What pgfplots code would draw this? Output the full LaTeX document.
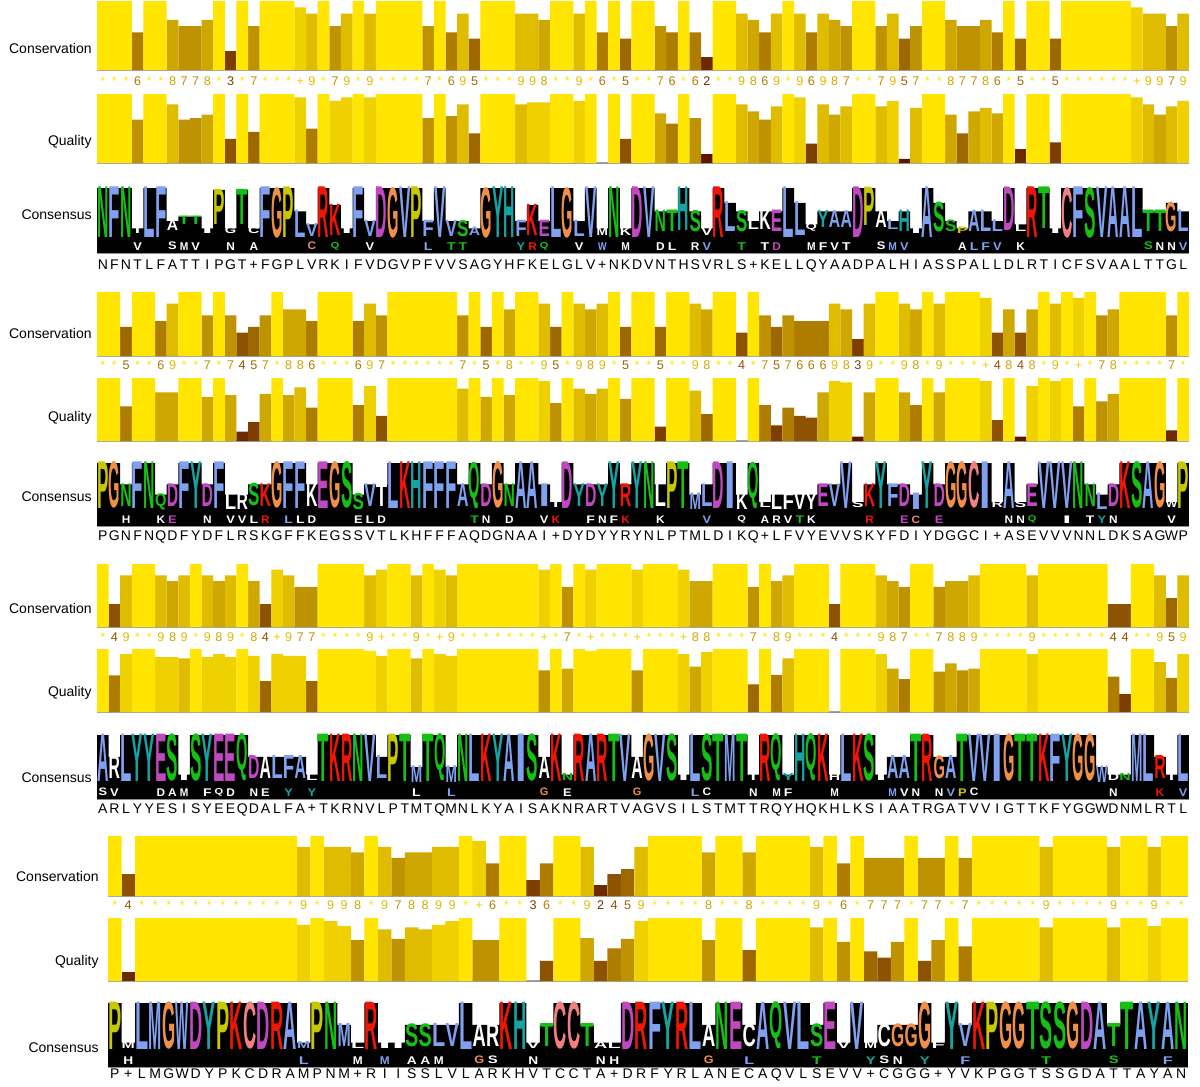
\documentclass[border=0pt]{standalone}
\usepackage{pgfplots}
\pgfplotsset{compat=1.18}
\usepackage{pgfplotstable}
\usepackage{graphicx}
\usepackage{fontspec}
\setmainfont{Liberation Sans}

% Jalview bar gradient: (0.3+0.7p, 0.9p, 0) with p = level/11
\definecolor{cons0}{rgb}{0.300,0.000,0}
\definecolor{cons1}{rgb}{0.364,0.082,0}
\definecolor{cons2}{rgb}{0.427,0.164,0}
\definecolor{cons3}{rgb}{0.491,0.245,0}
\definecolor{cons4}{rgb}{0.555,0.327,0}
\definecolor{cons5}{rgb}{0.618,0.409,0}
\definecolor{cons6}{rgb}{0.682,0.491,0}
\definecolor{cons7}{rgb}{0.745,0.573,0}
\definecolor{cons8}{rgb}{0.809,0.655,0}
\definecolor{cons9}{rgb}{0.873,0.736,0}
\definecolor{cons10}{rgb}{0.936,0.818,0}
\definecolor{cons11}{rgb}{1.000,0.900,0}
\definecolor{lineg}{HTML}{A4A4A4}

% clustal residue colours; lower case letters in the tables are drawn white
\definecolor{aaA}{HTML}{80A0F0}
\colorlet{aaI}{aaA}\colorlet{aaL}{aaA}\colorlet{aaM}{aaA}
\colorlet{aaF}{aaA}\colorlet{aaW}{aaA}\colorlet{aaV}{aaA}
\definecolor{aaK}{HTML}{F01505}\colorlet{aaR}{aaK}
\definecolor{aaN}{HTML}{15C015}
\colorlet{aaQ}{aaN}\colorlet{aaS}{aaN}\colorlet{aaT}{aaN}
\definecolor{aaD}{HTML}{C048C0}\colorlet{aaE}{aaD}
\definecolor{aaC}{HTML}{F08080}
\definecolor{aaG}{HTML}{F09048}
\definecolor{aaP}{HTML}{C8C800}
\definecolor{aaH}{HTML}{15A4A4}\colorlet{aaY}{aaH}
\colorlet{aaa}{white}\colorlet{aac}{white}\colorlet{aad}{white}\colorlet{aae}{white}
\colorlet{aaf}{white}\colorlet{aag}{white}\colorlet{aah}{white}\colorlet{aai}{white}
\colorlet{aak}{white}\colorlet{aal}{white}\colorlet{aam}{white}\colorlet{aan}{white}
\colorlet{aap}{white}\colorlet{aaq}{white}\colorlet{aar}{white}\colorlet{aas}{white}
\colorlet{aat}{white}\colorlet{aav}{white}\colorlet{aaw}{white}\colorlet{aay}{white}

\newlength\logow
\newlength\logoh
\newlength\tmplen
\newcommand\aaletter[1]{\textcolor{aa#1}{\uppercase{#1}}}
\newcommand\logoL[1]{\edef\lchartmp{#1}\expandafter\aaletter\expandafter{\lchartmp}}
\newcommand\consym[1]{\edef\tmpc{#1}\vphantom{0}\ifnum\tmpc=11 *\else\ifnum\tmpc=10 +\else\tmpc\fi\fi}
% zero-size boxes so that the node anchor does not matter
\newcommand\midtext[1]{\makebox[0pt][c]{\raisebox{-0.5\height}[0pt][0pt]{#1}}}
\newcommand\uptext[1]{\makebox[0pt][c]{\raisebox{\depth}[0pt][0pt]{#1}}}
% stretched logo letter: width, height fraction, letter
\newcommand\letterbox[3]{\pgfmathsetlength\tmplen{#2*\logoh}%
  \uptext{\resizebox*{#1}{\tmplen}{\bfseries\logoL{#3}}}}
\newcommand\lblfont{\fontsize{7}{8}\selectfont}
\newcommand\csymfont{\fontsize{6.3}{7}\selectfont}
\newcommand\seqfont{\fontsize{7}{8}\selectfont}

\pgfplotsset{
  annot/.style={scale only axis, anchor=south west, axis x line=bottom, axis y line=none,
    xtick=\empty, ytick=\empty, clip=false, ymin=0,
    x axis line style={-, draw=lineg, line width=1.2pt}},
  txt/.style={only marks, mark=*, mark size=0pt, mark options={draw=none, fill=none},
    point meta=explicit symbolic,
    every node near coord/.append style={inner sep=0pt, outer sep=0pt}},
}

\newcommand\consplots[2]{%
  \pgfplotsinvokeforeach{2,...,11}{%
    \addplot[ybar, bar shift=0pt, bar width=1, draw=none, fill=cons##1,
      restrict expr to domain={\thisrow{c}}{##1:##1}] table[x=x, y=c] {#1};
    \addplot[txt, restrict expr to domain={\thisrow{c}}{##1:##1},
      nodes near coords={\midtext{\consym{\pgfplotspointmeta}}},
      every node near coord/.append style={font=\csymfont, text=cons##1}]
      table[x=x, y expr=#2, meta=c] {#1};
  }}

\newcommand\qualplots[1]{%
  \pgfplotsinvokeforeach{0,...,11}{%
    \addplot[ybar, bar shift=0pt, bar width=1, draw=none, fill=cons##1,
      restrict expr to domain={round(11*\thisrow{q})}{##1:##1}]
      table[x=x, y expr=11*\thisrow{q}] {#1};
  }}

\newcommand\logoplots[3]{%
  \addplot[ybar, bar shift=0pt, bar width=1, draw=none, fill=black] table[x=x, y=H] {#1};
  \addplot[txt, visualization depends on={\thisrow{m} \as \lhgt},
    nodes near coords={\letterbox{\logow}{\lhgt}{\pgfplotspointmeta}}]
    table[x=x, y expr=\thisrow{H}-\thisrow{m}, meta=T] {#1};
  \addplot[txt, visualization depends on={\thisrow{h} \as \lhgt},
    nodes near coords={\letterbox{0.75\logow}{\lhgt}{\pgfplotspointmeta}}]
    table[x=x, y=b, meta=S] {#2};
  \addplot[txt, nodes near coords={\midtext{\pgfplotspointmeta}},
    every node near coord/.append style={font=\seqfont, text=black}]
    table[x=x, y expr=#3, meta=L] {#1};
}

% x: column, c: conservation (11 = *, 10 = +), q: quality fraction,
% L: consensus residue, T: top logo letter, H: logo column height, m: top letter height
\pgfplotstableread{
x c q L T H m
1 11 1.00 N N 1.00 0.78
2 11 1.00 F F 1.00 0.78
3 11 1.00 N N 1.00 0.78
4 6 0.63 T t 0.38 0.10
5 11 1.00 L L 1.00 0.78
6 11 1.00 F F 1.00 0.78
7 8 0.85 A a 0.49 0.16
8 7 0.63 T T 0.56 0.13
9 7 0.65 T T 0.56 0.13
10 8 0.70 I i 0.38 0.10
11 11 1.00 P P 0.97 0.54
12 3 0.35 G g 0.38 0.10
13 11 1.00 T T 0.97 0.54
14 7 0.45 + c 0.38 0.10
15 11 1.00 F F 1.00 0.78
16 11 1.00 G G 1.00 0.78
17 11 1.00 P P 1.00 0.78
18 10 0.95 L L 0.64 0.42
19 9 0.50 V V 0.44 0.20
20 11 1.00 R R 1.00 0.78
21 7 0.90 K K 0.74 0.48
22 9 0.95 I i 0.38 0.10
23 11 1.00 F F 1.00 0.78
24 9 0.95 V V 0.49 0.25
25 11 1.00 D D 1.00 0.78
26 11 1.00 G G 1.00 0.78
27 11 1.00 V V 1.00 0.78
28 11 1.00 P P 1.00 0.78
29 7 0.65 F F 0.49 0.25
30 11 1.00 V V 1.00 0.78
31 6 0.68 V V 0.49 0.25
32 9 0.85 S S 0.49 0.25
33 5 0.43 A A 0.38 0.13
34 11 1.00 G G 1.00 0.78
35 11 1.00 Y Y 1.00 0.78
36 11 1.00 H H 1.00 0.78
37 9 0.85 F F 0.49 0.25
38 9 0.88 K K 0.74 0.48
39 8 0.88 E E 0.49 0.25
40 11 1.00 L L 1.00 0.78
41 11 1.00 G G 1.00 0.78
42 9 0.90 L L 0.49 0.25
43 11 1.00 V V 1.00 0.78
44 6 0.00 + m 0.38 0.12
45 11 1.00 N N 1.00 0.78
46 5 0.35 K k 0.38 0.12
47 11 1.00 D D 1.00 0.78
48 11 1.00 V V 1.00 0.78
49 7 0.72 N N 0.64 0.33
50 6 0.57 T T 0.64 0.33
51 11 1.00 H H 1.00 0.67
52 6 0.65 S S 0.64 0.33
53 2 0.13 V v 0.38 0.12
54 11 1.00 R R 1.00 0.78
55 11 1.00 L L 0.77 0.46
56 9 0.85 S S 0.64 0.33
57 8 0.75 + l 0.49 0.15
58 6 0.63 K k 0.64 0.30
59 9 0.82 E E 0.64 0.33
60 11 1.00 L L 1.00 0.78
61 9 0.95 L L 0.77 0.52
62 6 0.28 Q q 0.44 0.12
63 9 0.85 Y Y 0.64 0.26
64 8 0.70 A A 0.64 0.26
65 7 0.82 A A 0.64 0.26
66 11 1.00 D D 1.00 0.78
67 11 1.00 P P 1.00 0.59
68 7 0.82 A a 0.64 0.26
69 9 0.90 L L 0.49 0.15
70 5 0.06 H H 0.64 0.33
71 7 0.80 I i 0.38 0.10
72 11 1.00 A A 1.00 0.78
73 11 1.00 S S 0.77 0.46
74 8 0.70 S S 0.49 0.18
75 7 0.43 P P 0.38 0.10
76 7 0.75 A A 0.64 0.33
77 8 0.80 L L 0.64 0.33
78 6 0.72 L L 0.49 0.18
79 11 1.00 D D 1.00 0.67
80 5 0.20 L l 0.44 0.12
81 11 1.00 R R 1.00 0.78
82 11 1.00 T T 1.00 0.64
83 5 0.30 I i 0.38 0.10
84 11 1.00 C C 1.00 0.78
85 11 1.00 F F 1.00 0.78
86 11 1.00 S S 1.00 0.78
87 11 1.00 V V 1.00 0.78
88 11 1.00 A A 1.00 0.78
89 11 1.00 A A 1.00 0.78
90 10 0.95 L L 1.00 0.78
91 9 0.85 T T 0.64 0.33
92 9 0.70 T T 0.64 0.33
93 7 0.82 G G 0.77 0.46
94 9 0.90 L L 0.64 0.33
}\tA

\pgfplotstableread{
x c q L T H m
1 11 1.00 P P 1.00 0.74
2 11 1.00 G G 1.00 0.74
3 5 0.55 N N 0.66 0.36
4 11 1.00 F F 1.00 0.74
5 11 1.00 N N 1.00 0.74
6 6 0.77 Q Q 0.50 0.26
7 9 0.77 D D 0.66 0.36
8 11 1.00 F F 1.00 0.74
9 11 1.00 Y Y 1.00 0.74
10 7 0.70 D D 0.66 0.36
11 11 1.00 F F 1.00 0.74
12 7 0.73 L l 0.50 0.26
13 4 0.15 R r 0.50 0.26
14 5 0.30 S S 0.66 0.36
15 7 0.75 K K 0.66 0.36
16 11 1.00 G G 1.00 0.74
17 8 0.73 F F 1.00 0.74
18 8 0.85 F F 1.00 0.74
19 6 0.53 K k 0.66 0.36
20 11 1.00 E E 1.00 0.74
21 11 1.00 G G 1.00 0.74
22 11 1.00 S S 1.00 0.74
23 6 0.57 S S 0.50 0.26
24 9 0.87 V V 0.66 0.36
25 7 0.40 T t 0.66 0.36
26 11 1.00 L L 1.00 0.74
27 11 1.00 K K 1.00 0.74
28 11 1.00 H H 1.00 0.74
29 11 1.00 F F 1.00 0.74
30 11 1.00 F F 1.00 0.74
31 11 1.00 F F 1.00 0.74
32 7 0.83 A A 0.66 0.36
33 11 1.00 Q Q 1.00 0.74
34 5 0.70 D D 0.66 0.36
35 11 1.00 G G 1.00 0.74
36 8 0.73 N N 0.66 0.36
37 11 1.00 A A 1.00 0.74
38 11 1.00 A A 1.00 0.74
39 9 0.95 I I 0.66 0.36
40 5 0.60 + t 0.38 0.11
41 11 1.00 D D 1.00 0.74
42 9 0.83 Y Y 0.66 0.36
43 8 0.75 D D 0.66 0.36
44 9 0.83 Y Y 0.66 0.36
45 11 1.00 Y Y 1.00 0.74
46 5 0.67 R R 0.66 0.36
47 11 1.00 Y Y 1.00 0.74
48 11 1.00 N N 1.00 0.74
49 5 0.23 L l 0.66 0.36
50 11 1.00 P P 1.00 0.74
51 11 1.00 T T 1.00 0.74
52 9 0.80 M M 0.50 0.26
53 8 0.43 L L 0.66 0.36
54 11 1.00 D D 1.00 0.74
55 11 1.00 I I 1.00 0.74
56 4 0.00 K k 0.50 0.26
57 11 1.00 Q Q 1.00 0.74
58 7 0.57 + l 0.38 0.11
59 5 0.25 L l 0.50 0.26
60 7 0.53 F f 0.50 0.26
61 6 0.40 V v 0.50 0.26
62 6 0.37 Y y 0.50 0.26
63 6 0.77 E E 0.66 0.36
64 9 0.95 V V 0.66 0.36
65 8 0.93 V V 1.00 0.74
66 3 0.07 S s 0.38 0.11
67 9 0.77 K K 0.66 0.36
68 11 1.00 Y Y 1.00 0.74
69 11 1.00 F F 0.66 0.36
70 9 0.77 D D 0.66 0.36
71 8 0.57 I I 0.50 0.26
72 11 1.00 Y Y 1.00 0.74
73 9 0.77 D D 0.66 0.36
74 11 1.00 G G 1.00 0.74
75 11 1.00 G G 1.00 0.74
76 11 1.00 C C 1.00 0.74
77 10 0.95 I I 1.00 0.74
78 4 0.33 + r 0.38 0.11
79 8 1.00 A A 1.00 0.74
80 4 0.07 S s 0.38 0.11
81 8 0.87 E E 0.66 0.36
82 11 1.00 V V 1.00 0.74
83 9 0.95 V V 1.00 0.74
84 11 1.00 V V 1.00 0.74
85 10 0.55 N N 1.00 0.74
86 11 1.00 N N 0.66 0.36
87 7 0.63 L L 0.50 0.26
88 8 0.75 D D 0.66 0.36
89 11 1.00 K K 1.00 0.74
90 11 1.00 S S 1.00 0.74
91 11 1.00 A A 1.00 0.74
92 11 1.00 G G 1.00 0.74
93 7 0.17 W w 0.38 0.11
94 11 1.00 P P 1.00 0.74
}\tB

\pgfplotstableread{
x c q L T H m
1 11 1.00 A A 1.00 0.74
2 4 0.58 R r 0.66 0.36
3 9 0.92 L L 1.00 0.74
4 11 1.00 Y Y 1.00 0.74
5 11 1.00 Y Y 1.00 0.74
6 9 0.87 E E 1.00 0.74
7 8 0.87 S S 1.00 0.74
8 9 0.85 I i 0.38 0.11
9 11 1.00 S S 1.00 0.74
10 9 0.87 Y Y 1.00 0.74
11 8 0.92 E E 1.00 0.74
12 9 0.87 E E 1.00 0.74
13 11 1.00 Q Q 1.00 0.74
14 8 0.89 D D 0.66 0.36
15 4 0.49 A a 0.66 0.36
16 10 0.92 L L 0.66 0.36
17 9 0.89 F F 0.66 0.36
18 7 0.89 A A 0.66 0.36
19 7 0.49 + l 0.38 0.11
20 11 1.00 T T 1.00 0.74
21 11 1.00 K K 1.00 0.74
22 11 1.00 R R 1.00 0.74
23 11 1.00 N N 1.00 0.74
24 9 0.97 V V 1.00 0.74
25 10 0.89 L L 0.66 0.36
26 11 1.00 P P 1.00 0.74
27 11 1.00 T T 1.00 0.74
28 9 0.85 M M 0.50 0.26
29 11 1.00 T T 1.00 0.74
30 10 0.92 Q Q 1.00 0.74
31 9 0.89 M M 0.50 0.26
32 11 1.00 N N 1.00 0.74
33 11 1.00 L L 1.00 0.74
34 11 1.00 K K 1.00 0.74
35 11 1.00 Y Y 1.00 0.74
36 11 1.00 A A 1.00 0.74
37 11 1.00 I I 1.00 0.74
38 11 1.00 S S 1.00 0.74
39 10 0.66 A a 0.66 0.36
40 11 1.00 K K 1.00 0.74
41 7 0.69 N N 0.38 0.11
42 11 1.00 R R 1.00 0.74
43 10 0.97 A A 1.00 0.74
44 11 1.00 R R 1.00 0.74
45 11 1.00 T T 1.00 0.74
46 11 1.00 V V 1.00 0.74
47 10 0.66 A a 0.66 0.36
48 11 1.00 G G 1.00 0.74
49 11 1.00 V V 1.00 0.74
50 11 1.00 S S 1.00 0.74
51 10 0.92 I i 0.38 0.11
52 8 0.72 L L 1.00 0.74
53 8 0.95 S S 1.00 0.74
54 11 1.00 T T 1.00 0.74
55 11 1.00 M M 1.00 0.74
56 11 1.00 T T 1.00 0.74
57 7 0.44 T t 0.38 0.11
58 11 1.00 R R 1.00 0.74
59 8 0.59 Q Q 1.00 0.74
60 9 0.85 Y Y 0.38 0.11
61 11 1.00 H H 1.00 0.74
62 11 1.00 Q Q 1.00 0.74
63 11 1.00 K K 1.00 0.74
64 4 0.00 H h 0.38 0.11
65 11 1.00 L L 1.00 0.74
66 11 1.00 K K 1.00 0.74
67 11 1.00 S S 1.00 0.74
68 9 0.92 I i 0.38 0.11
69 8 0.69 A A 0.66 0.36
70 7 0.52 A A 0.66 0.36
71 11 1.00 T T 1.00 0.74
72 11 1.00 R R 1.00 0.74
73 7 0.64 G G 0.66 0.36
74 8 0.77 A A 0.66 0.36
75 8 0.66 T T 1.00 0.74
76 9 0.69 V V 1.00 0.74
77 11 1.00 V V 1.00 0.74
78 11 1.00 I I 1.00 0.74
79 11 1.00 G G 1.00 0.74
80 11 1.00 T T 1.00 0.74
81 9 0.92 T T 1.00 0.74
82 11 1.00 K K 1.00 0.74
83 11 1.00 F F 1.00 0.74
84 11 1.00 Y Y 1.00 0.74
85 11 1.00 G G 1.00 0.74
86 11 1.00 G G 1.00 0.74
87 11 1.00 W W 0.50 0.26
88 4 0.56 D d 0.38 0.11
89 4 0.29 N N 0.38 0.11
90 11 1.00 M M 1.00 0.74
91 11 1.00 L L 1.00 0.74
92 9 0.79 R R 0.66 0.36
93 5 0.54 T t 0.38 0.11
94 9 0.92 L L 1.00 0.74
}\tC

\pgfplotstableread{
x c q L T H m
1 11 1.00 P P 1.00 0.74
2 4 0.15 + m 0.38 0.11
3 11 1.00 L L 1.00 0.74
4 11 1.00 M M 1.00 0.74
5 11 1.00 G G 1.00 0.74
6 11 1.00 W W 1.00 0.74
7 11 1.00 D D 1.00 0.74
8 11 1.00 Y Y 1.00 0.74
9 11 1.00 P P 1.00 0.74
10 11 1.00 K K 1.00 0.74
11 11 1.00 C C 1.00 0.74
12 11 1.00 D D 1.00 0.74
13 11 1.00 R R 1.00 0.74
14 11 1.00 A A 1.00 0.74
15 9 0.89 M M 0.38 0.11
16 11 1.00 P P 1.00 0.74
17 9 0.95 N N 1.00 0.74
18 9 0.87 M M 0.66 0.36
19 8 0.65 + l 0.38 0.11
20 11 1.00 R R 1.00 0.74
21 9 0.82 I i 0.38 0.11
22 7 0.67 I i 0.38 0.11
23 8 0.85 S S 0.66 0.36
24 8 0.82 S S 0.66 0.36
25 9 0.89 L L 0.66 0.36
26 9 0.95 V V 0.66 0.36
27 11 1.00 L L 1.00 0.74
28 10 0.65 A a 0.66 0.36
29 6 0.65 R r 0.66 0.36
30 11 1.00 K K 1.00 0.74
31 11 1.00 H H 1.00 0.74
32 3 0.00 V v 0.38 0.11
33 6 0.32 T T 0.66 0.36
34 11 1.00 C C 1.00 0.74
35 11 1.00 C C 1.00 0.74
36 9 0.69 T T 0.66 0.36
37 2 0.32 A a 0.38 0.11
38 4 0.52 + l 0.38 0.11
39 5 0.67 D D 1.00 0.74
40 9 0.95 R R 1.00 0.74
41 11 1.00 F F 1.00 0.74
42 11 1.00 Y Y 1.00 0.74
43 11 1.00 R R 1.00 0.74
44 11 1.00 L L 1.00 0.74
45 8 0.65 A a 0.66 0.36
46 11 1.00 N N 1.00 0.74
47 11 1.00 E E 1.00 0.74
48 8 0.49 C c 0.66 0.36
49 11 1.00 A A 1.00 0.74
50 11 1.00 Q Q 1.00 0.74
51 11 1.00 V V 1.00 0.74
52 11 1.00 L L 1.00 0.74
53 9 0.85 S S 0.66 0.36
54 11 1.00 E E 1.00 0.74
55 6 0.62 V v 0.38 0.11
56 11 1.00 V V 1.00 0.74
57 7 0.47 + m 0.38 0.11
58 7 0.37 C c 0.66 0.36
59 7 0.62 G G 0.66 0.36
60 11 1.00 G G 0.66 0.36
61 7 0.32 G G 1.00 0.74
62 7 0.65 + f 0.38 0.11
63 11 1.00 Y Y 1.00 0.74
64 7 0.55 V V 0.66 0.36
65 11 1.00 K K 1.00 0.74
66 11 1.00 P P 1.00 0.74
67 11 1.00 G G 1.00 0.74
68 11 1.00 G G 1.00 0.74
69 11 1.00 T T 1.00 0.74
70 9 0.85 S S 1.00 0.74
71 11 1.00 S S 1.00 0.74
72 11 1.00 G G 1.00 0.74
73 11 1.00 D D 1.00 0.74
74 11 1.00 A A 1.00 0.74
75 9 0.85 T T 0.66 0.36
76 11 1.00 T T 1.00 0.74
77 11 1.00 A A 1.00 0.74
78 9 0.87 Y Y 1.00 0.74
79 11 1.00 A A 1.00 0.74
80 11 1.00 N N 1.00 0.74
}\tD

% secondary logo letters: x, letter, bottom, height
\pgfplotstableread{
x S b h
4 v 0.03 0.12
7 s 0.03 0.12
8 m 0.03 0.12
9 v 0.03 0.12
12 n 0.03 0.12
14 a 0.03 0.12
19 C 0.03 0.12
21 Q 0.03 0.12
24 v 0.03 0.12
29 L 0.03 0.12
31 T 0.03 0.12
32 T 0.03 0.12
37 Y 0.03 0.12
38 R 0.03 0.12
39 Q 0.03 0.12
42 v 0.03 0.12
44 W 0.03 0.12
46 m 0.03 0.12
49 d 0.03 0.12
50 l 0.03 0.12
52 r 0.03 0.12
53 V 0.03 0.12
56 T 0.03 0.12
58 t 0.03 0.12
59 D 0.03 0.12
62 m 0.03 0.12
63 f 0.03 0.12
64 v 0.03 0.12
65 t 0.03 0.12
68 s 0.03 0.12
69 M 0.03 0.12
70 V 0.03 0.12
75 a 0.03 0.12
76 L 0.03 0.12
77 F 0.03 0.12
78 V 0.03 0.12
80 k 0.03 0.12
91 S 0.03 0.12
92 n 0.03 0.12
93 n 0.03 0.12
94 V 0.03 0.12
}\sA

\pgfplotstableread{
x S b h
3 h 0.03 0.12
6 k 0.03 0.12
7 E 0.03 0.12
10 n 0.03 0.12
12 v 0.03 0.12
13 v 0.03 0.12
14 l 0.03 0.12
15 R 0.03 0.12
17 L 0.03 0.12
18 l 0.03 0.12
19 d 0.03 0.12
23 e 0.03 0.12
24 l 0.03 0.12
25 d 0.03 0.12
33 T 0.03 0.12
34 n 0.03 0.12
36 d 0.03 0.12
39 v 0.03 0.12
40 K 0.03 0.12
43 f 0.03 0.12
44 n 0.03 0.12
45 f 0.03 0.12
46 K 0.03 0.12
49 k 0.03 0.12
53 V 0.03 0.12
56 q 0.03 0.12
58 a 0.03 0.12
59 r 0.03 0.12
60 v 0.03 0.12
61 T 0.03 0.12
62 k 0.03 0.12
67 R 0.03 0.12
70 E 0.03 0.12
71 C 0.03 0.12
73 E 0.03 0.12
79 n 0.03 0.12
80 n 0.03 0.12
81 Q 0.03 0.12
84 i 0.03 0.12
86 t 0.03 0.12
87 Y 0.03 0.12
88 n 0.03 0.12
93 v 0.03 0.12
}\sB

\pgfplotstableread{
x S b h
1 s 0.03 0.12
2 v 0.03 0.12
6 d 0.03 0.12
7 a 0.03 0.12
8 m 0.03 0.12
10 f 0.03 0.12
11 q 0.03 0.12
12 d 0.03 0.12
14 n 0.03 0.12
15 e 0.03 0.12
17 Y 0.03 0.12
19 Y 0.03 0.12
28 l 0.03 0.12
31 L 0.03 0.12
39 G 0.03 0.12
41 e 0.03 0.12
47 G 0.03 0.12
52 L 0.03 0.12
53 c 0.03 0.12
57 n 0.03 0.12
59 m 0.03 0.12
60 f 0.03 0.12
64 m 0.03 0.12
69 M 0.03 0.12
70 v 0.03 0.12
71 n 0.03 0.12
73 n 0.03 0.12
74 V 0.03 0.12
75 P 0.03 0.12
76 c 0.03 0.12
88 n 0.03 0.12
92 K 0.03 0.12
94 V 0.03 0.12
}\sC

\pgfplotstableread{
x S b h
2 h 0.03 0.12
15 L 0.03 0.12
19 m 0.03 0.12
21 M 0.03 0.12
23 a 0.03 0.12
24 a 0.03 0.12
25 m 0.03 0.12
28 G 0.03 0.12
29 s 0.03 0.12
32 n 0.03 0.12
37 n 0.03 0.12
38 h 0.03 0.12
45 G 0.03 0.12
48 L 0.03 0.12
53 T 0.03 0.12
57 Y 0.03 0.12
58 s 0.03 0.12
59 n 0.03 0.12
61 Y 0.03 0.12
64 F 0.03 0.12
70 T 0.03 0.12
75 S 0.03 0.12
79 F 0.03 0.12
}\sD

\begin{document}
\begin{tikzpicture}
\useasboundingbox (0,0) rectangle (600pt,-543.5pt);

% ---- block 1 ----
\setlength\logow{5.7pt}\setlength\logoh{32.5pt}
\begin{axis}[annot, at={(48.5pt,-35pt)}, width=546pt, height=34.5pt, xmin=0.5, xmax=94.5, ymax=11]
\consplots{\tA}{-1.91}
\end{axis}
\begin{axis}[annot, at={(48.5pt,-81.5pt)}, width=546pt, height=34.5pt, xmin=0.5, xmax=94.5, ymax=11]
\qualplots{\tA}
\end{axis}
\begin{axis}[annot, at={(48.5pt,-126.5pt)}, width=546pt, height=32.5pt, xmin=0.5, xmax=94.5, ymax=1]
\logoplots{\tA}{\sA}{-0.2}
\end{axis}

% ---- block 2 ----
\setlength\logoh{31.5pt}
\begin{axis}[annot, at={(48.5pt,-178pt)}, width=546pt, height=32pt, xmin=0.5, xmax=94.5, ymax=11]
\consplots{\tB}{-1.72}
\end{axis}
\begin{axis}[annot, at={(48.5pt,-220.5pt)}, width=546pt, height=31.5pt, xmin=0.5, xmax=94.5, ymax=11]
\qualplots{\tB}
\end{axis}
\begin{axis}[annot, at={(48.5pt,-263pt)}, width=546pt, height=31.5pt, xmin=0.5, xmax=94.5, ymax=1]
\logoplots{\tB}{\sB}{-0.175}
\end{axis}

% ---- block 3 ----
\setlength\logoh{32pt}
\begin{axis}[annot, at={(48.5pt,-313.5pt)}, width=546pt, height=31.5pt, xmin=0.5, xmax=94.5, ymax=11]
\consplots{\tC}{-1.92}
\end{axis}
\begin{axis}[annot, at={(48.5pt,-356pt)}, width=546pt, height=31.5pt, xmin=0.5, xmax=94.5, ymax=11]
\qualplots{\tC}
\end{axis}
\begin{axis}[annot, at={(48.5pt,-399.5pt)}, width=546pt, height=32pt, xmin=0.5, xmax=94.5, ymax=1]
\logoplots{\tC}{\sC}{-0.17}
\end{axis}

% ---- block 4 (wider columns) ----
\setlength\logow{6.6pt}\setlength\logoh{32pt}
\begin{axis}[annot, at={(54pt,-448pt)}, width=540pt, height=30pt, xmin=0.5, xmax=80.5, ymax=11]
\consplots{\tD}{-1.83}
\end{axis}
\begin{axis}[annot, at={(54pt,-490.5pt)}, width=540pt, height=31.5pt, xmin=0.5, xmax=80.5, ymax=11]
\qualplots{\tD}
\end{axis}
\begin{axis}[annot, at={(54pt,-533.5pt)}, width=540pt, height=32pt, xmin=0.5, xmax=80.5, ymax=1]
\logoplots{\tD}{\sD}{-0.125}
\end{axis}

% row labels
\begin{scope}[every node/.style={anchor=east, font=\lblfont, inner sep=0pt}]
\node at (46pt,-24pt) {Conservation};
\node at (46pt,-71pt) {Quality};
\node at (46pt,-107.5pt) {Consensus};
\node at (46pt,-166.5pt) {Conservation};
\node at (46pt,-209pt) {Quality};
\node at (46pt,-248.5pt) {Consensus};
\node at (46pt,-304pt) {Conservation};
\node at (46pt,-346.5pt) {Quality};
\node at (46pt,-389pt) {Consensus};
\node at (49.5pt,-438pt) {Conservation};
\node at (49.5pt,-481pt) {Quality};
\node at (49.5pt,-524pt) {Consensus};
\end{scope}
\end{tikzpicture}
\end{document}
